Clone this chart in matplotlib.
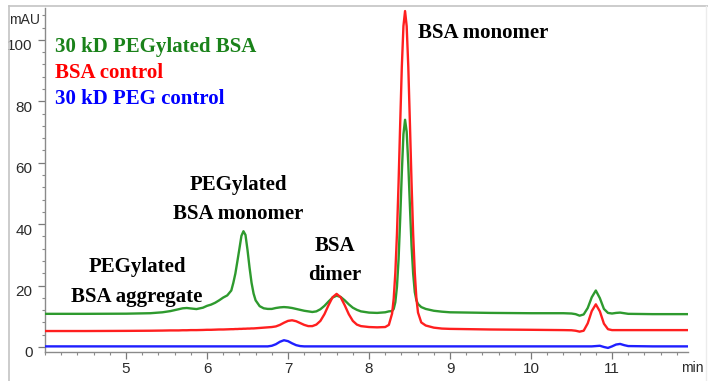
import matplotlib
matplotlib.use("Agg")
import matplotlib.pyplot as plt
import matplotlib.transforms as mtransforms
from matplotlib.lines import Line2D
from matplotlib.ticker import MultipleLocator, FixedLocator

# ---- data (retention time in min, absorbance in mAU) ----
time_min = [
    4.0, 4.5, 5.0, 5.3, 5.45, 5.55, 5.65, 5.7, 5.75, 5.8,
    5.87, 5.95, 6.0, 6.05, 6.1, 6.15, 6.2, 6.25, 6.3, 6.325,
    6.35, 6.375, 6.4, 6.425, 6.45, 6.475, 6.5, 6.525, 6.55, 6.575,
    6.6, 6.65, 6.7, 6.75, 6.8, 6.85, 6.9, 6.95, 7.0, 7.05,
    7.1, 7.15, 7.2, 7.25, 7.3, 7.35, 7.4, 7.45, 7.5, 7.55,
    7.6, 7.65, 7.7, 7.75, 7.8, 7.85, 7.9, 8.0, 8.1, 8.2,
    8.245, 8.285, 8.305, 8.325, 8.345, 8.365, 8.385, 8.405, 8.425, 8.445,
    8.465, 8.485, 8.505, 8.525, 8.545, 8.565, 8.585, 8.605, 8.645, 8.7,
    8.8, 8.9, 9.0, 9.5, 10.0, 10.4, 10.5, 10.55, 10.6, 10.65,
    10.7, 10.75, 10.8, 10.85, 10.9, 10.95, 11.0, 11.05, 11.1, 11.15,
    11.2, 11.5, 11.95,
]

pegylated_bsa = [
    10.8, 10.8, 10.85, 11.0, 11.3, 11.7, 12.3, 12.6, 12.7, 12.55,
    12.35, 12.8, 13.4, 13.8, 14.4, 15.2, 16.1, 16.8, 18.4, 20.9,
    23.9, 27.9, 32.0, 36.2, 37.7, 36.5, 31.6, 25.9, 20.9, 17.4,
    15.2, 13.3, 12.6, 12.4, 12.4, 12.7, 12.9, 13.0, 12.9, 12.7,
    12.4, 12.1, 11.8, 11.6, 11.4, 11.6, 12.3, 13.4, 14.8, 16.1,
    16.7, 16.3, 15.2, 13.9, 12.8, 12.1, 11.6, 11.2, 11.1, 11.3,
    11.6, 11.7, 12.4, 14.6, 19.6, 28.6, 41.8, 56.8, 69.3, 74.0,
    70.1, 59.5, 45.9, 33.0, 23.9, 17.9, 15.2, 14.0, 13.0, 12.4,
    11.8, 11.5, 11.3, 11.1, 11.0, 11.0, 10.9, 10.7, 10.2, 10.6,
    12.7, 16.2, 18.4, 15.9, 12.4, 11.1, 10.9, 11.1, 11.2, 11.0,
    10.8, 10.7, 10.7,
]

bsa_control = [
    5.2, 5.2, 5.25, 5.3, 5.35, 5.4, 5.4, 5.45, 5.45, 5.5,
    5.5, 5.55, 5.6, 5.6, 5.65, 5.7, 5.7, 5.75, 5.8, 5.8,
    5.85, 5.85, 5.9, 5.9, 5.95, 5.95, 6.0, 6.0, 6.05, 6.05,
    6.1, 6.2, 6.3, 6.4, 6.5, 6.7, 7.2, 7.9, 8.5, 8.7,
    8.4, 7.8, 7.2, 6.8, 6.8, 7.3, 8.5, 10.7, 13.6, 16.2,
    17.3, 16.2, 13.6, 10.7, 8.5, 7.3, 6.8, 6.5, 6.4, 6.5,
    7.2, 10.9, 15.8, 24.2, 36.8, 53.6, 72.8, 91.2, 104.5, 109.4,
    104.5, 91.2, 72.8, 53.6, 36.8, 24.2, 15.8, 11.2, 8.0, 7.0,
    6.3, 6.0, 5.9, 5.7, 5.6, 5.5, 5.45, 5.3, 5.0, 5.3,
    7.7, 11.7, 13.9, 11.6, 7.6, 5.8, 5.5, 5.5, 5.5, 5.5,
    5.5, 5.5, 5.5,
]

peg_control = [
    0.2, 0.2, 0.2, 0.2, 0.2, 0.2, 0.2, 0.2, 0.2, 0.2,
    0.2, 0.2, 0.2, 0.2, 0.2, 0.2, 0.2, 0.2, 0.2, 0.2,
    0.2, 0.2, 0.2, 0.2, 0.2, 0.2, 0.2, 0.2, 0.2, 0.2,
    0.2, 0.2, 0.2, 0.2, 0.4, 0.9, 1.7, 2.2, 1.9, 1.2,
    0.6, 0.3, 0.2, 0.2, 0.2, 0.2, 0.2, 0.2, 0.2, 0.2,
    0.2, 0.2, 0.2, 0.2, 0.2, 0.2, 0.2, 0.2, 0.2, 0.2,
    0.2, 0.2, 0.2, 0.2, 0.2, 0.2, 0.2, 0.2, 0.2, 0.2,
    0.2, 0.2, 0.2, 0.2, 0.2, 0.2, 0.2, 0.2, 0.2, 0.2,
    0.2, 0.2, 0.2, 0.2, 0.2, 0.2, 0.2, 0.2, 0.2, 0.2,
    0.2, 0.2, 0.3, 0.4, 0.0, -0.3, 0.2, 0.8, 1.0, 0.6,
    0.3, 0.2, 0.2,
]

series_names = ["30 kD PEGylated BSA", "BSA control", "30 kD PEG control"]
x_ticks = [5, 6, 7, 8, 9, 10, 11]
y_ticks = [0, 20, 40, 60, 80, 100]

# ---- figure ----
W, H = 708, 381
fig = plt.figure(figsize=(W / 100, H / 100), dpi=100)


def box(x0, y0, x1, y1):
    return [x0 / W, 1 - y1 / H, (x1 - x0) / W, (y1 - y0) / H]


ax = fig.add_axes(box(45, 8, 688, 352))

line_colors = ["#2e9a2e", "#ff1f1f", "#1f1fff"]
text_colors = ["#1a821a", "#ff0000", "#0000ff"]
series = [pegylated_bsa, bsa_control, peg_control]

for vals, c in zip(series, line_colors):
    ax.plot(time_min, vals, color=c, lw=1.7, solid_joinstyle="round", zorder=3)

ax.set_xlim(4.0, 11.938)
ax.set_ylim(-1.63, 110.4)

for s in ["top", "right"]:
    ax.spines[s].set_visible(False)
for s in ["left", "bottom"]:
    ax.spines[s].set_color("#8a8a8a")
    ax.spines[s].set_linewidth(1.0)

ax.xaxis.set_major_locator(FixedLocator(x_ticks))
ax.xaxis.set_minor_locator(MultipleLocator(0.2))
ax.yaxis.set_major_locator(FixedLocator(y_ticks))
ax.yaxis.set_minor_locator(MultipleLocator(4))

ax.tick_params(axis="both", which="major", length=5, width=0.9, color="#7a7a7a",
               labelsize=11, labelcolor="#2b2b2b")
ax.tick_params(axis="both", which="minor", length=2.5, width=0.8, color="#8a8a8a")
ax.tick_params(axis="x", which="major", pad=2)
ax.tick_params(axis="y", which="major", pad=4)

for lab in ax.get_xticklabels() + ax.get_yticklabels():
    lab.set_fontfamily("Liberation Sans")
offset = mtransforms.ScaledTranslation(0, -0.05, fig.dpi_scale_trans)
for lab in ax.get_yticklabels():
    lab.set_transform(lab.get_transform() + offset)

# axis units
fig.text(25 / W, 1 - 20 / H, "mAU", ha="center", va="center", fontsize=10,
         color="#2b2b2b", family="Liberation Sans")
fig.text(692 / W, 1 - 368 / H, "min", ha="center", va="center", fontsize=10,
         color="#2b2b2b", family="Liberation Sans")

# legend-like coloured labels
serif = dict(family="Liberation Serif", weight="bold", fontsize=15)
legend_y = [97.7, 89.2, 80.8]
for name, c, yy in zip(series_names, text_colors, legend_y):
    ax.text(4.123, yy, name, color=c, ha="left", va="center", **serif)

# peak annotations
annotations = [
    ("PEGylated", 5.136, 26.1),
    ("BSA aggregate", 5.136, 16.3),
    ("PEGylated", 6.383, 52.8),
    ("BSA monomer", 6.383, 43.3),
    ("BSA", 7.574, 32.9),
    ("dimer", 7.574, 23.5),
]
for txt, xx, yy in annotations:
    ax.text(xx, yy, txt, color="black", ha="center", va="center", **serif)
ax.text(8.605, 102.3, "BSA monomer", color="black", ha="left", va="center", **serif)

# outer frame
frame_c = "#c4c4c4"
fig.add_artist(Line2D([9 / W, 9 / W], [0, 1 - 6 / H], color=frame_c, lw=1.2,
                      transform=fig.transFigure))
fig.add_artist(Line2D([9 / W, 1], [1 - 6 / H, 1 - 6 / H], color=frame_c, lw=1.2,
                      transform=fig.transFigure))
fig.add_artist(Line2D([706 / W, 706 / W], [0, 1 - 6 / H], color="#ececec", lw=1.0,
                      transform=fig.transFigure))

fig.savefig("out.png", dpi=100)
